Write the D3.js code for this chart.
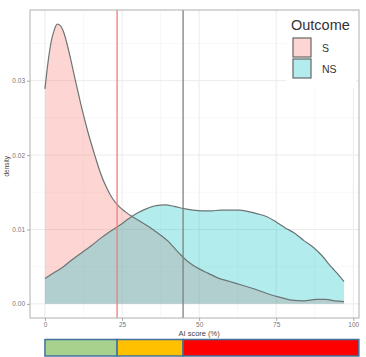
<!DOCTYPE html>
<html>
<head>
<meta charset="utf-8">
<script src="https://cdn.jsdelivr.net/npm/d3@7"></script>
<style>
  body { margin: 0; background: #fff; }
  svg { display: block; font-family: "Liberation Sans", Arial, sans-serif; }
</style>
</head>
<body>
<script>
// density curves (x = AI score %, y = density)
const sX = [0, 1, 2, 3, 4, 5, 6, 7, 8, 10, 12, 14, 16, 18, 20, 22, 24, 26, 28, 30, 32, 34, 36, 38, 40, 42, 44, 46, 48, 50, 53, 56, 60, 64, 68, 72, 76, 80, 84, 88, 91, 94, 97];
const sY = [.0289, .0325, .0352, .0368, .0376, .0374, .0366, .0352, .0335, .0298, .0262, .0230, .0202, .0176, .0156, .0141, .0131, .0124, .0118, .0113, .0108, .0103, .0097, .0091, .0084, .0075, .0066, .0058, .0052, .0047, .0041, .0035, .0030, .0025, .0020, .0014, .0009, .0005, .0004, .0006, .0006, .0004, .0003];
const nsX = [0, 3, 6, 9, 12, 15, 18, 21, 24, 27, 30, 33, 36, 39, 42, 45, 48, 51, 54, 57, 60, 63, 66, 69, 72, 75, 78, 81, 84, 87, 90, 93, 95, 97];
const nsY = [.0034, .0042, .0050, .0060, .0069, .0078, .0088, .0097, .0105, .0114, .0122, .0128, .0132, .0133, .0131, .0128, .0126, .0125, .0125, .0126, .0126, .0126, .0124, .0121, .0117, .0110, .0102, .0095, .0085, .0076, .0064, .0049, .0040, .0030];

const xTicks = [0, 25, 50, 75, 100];
const yTicks = [0, 0.01, 0.02, 0.03];
const yTickLabels = ["0.00", "0.01", "0.02", "0.03"];
const cutoffs = [23.4, 44.8];
const barBreaks = [0, 23.4, 44.8, 101.8];
const barColors = ["#a9d18e", "#ffc000", "#ff0000"];
const outcomes = ["S", "NS"];
const fills = ["#f8766d", "#00bfc4"];

const W = 366, H = 357;
const svg = d3.select("body").append("svg").attr("width", W).attr("height", H);

const x = d3.scaleLinear().domain([-4.85, 101.85]).range([30, 359]);
const y = d3.scaleLinear().domain([-0.0019, 0.0395]).range([318, 10]);

// panel grid
const g = svg.append("g");
const minorX = d3.range(-12.5, 110, 25).filter(v => v > -4.85 && v < 101.85);
const minorY = [0.005, 0.015, 0.025, 0.035];
g.selectAll(".mx").data(minorX).join("line")
  .attr("x1", d => x(d)).attr("x2", d => x(d)).attr("y1", 10).attr("y2", 318)
  .attr("stroke", "#f4f4f4").attr("stroke-width", 0.6);
g.selectAll(".my").data(minorY).join("line")
  .attr("y1", d => y(d)).attr("y2", d => y(d)).attr("x1", 30).attr("x2", 359)
  .attr("stroke", "#f4f4f4").attr("stroke-width", 0.6);
g.selectAll(".Mx").data(xTicks).join("line")
  .attr("x1", d => x(d)).attr("x2", d => x(d)).attr("y1", 10).attr("y2", 318)
  .attr("stroke", "#ebebeb").attr("stroke-width", 1);
g.selectAll(".My").data(yTicks).join("line")
  .attr("y1", d => y(d)).attr("y2", d => y(d)).attr("x1", 30).attr("x2", 359)
  .attr("stroke", "#ebebeb").attr("stroke-width", 1);

// densities
const area = d3.area().curve(d3.curveMonotoneX)
  .x(d => x(d[0])).y0(y(0)).y1(d => y(d[1]));
const line = d3.line().curve(d3.curveMonotoneX)
  .x(d => x(d[0])).y(d => y(d[1]));
const series = [d3.zip(sX, sY), d3.zip(nsX, nsY)];
series.forEach((s, i) => {
  svg.append("path").datum(s).attr("d", area)
    .attr("fill", fills[i]).attr("fill-opacity", 0.3);
});
series.forEach((s, i) => {
  svg.append("path").datum(s).attr("d", line)
    .attr("fill", "none").attr("stroke", "#6b7575").attr("stroke-width", 1.2);
});

// cutoff lines
svg.selectAll(".cut").data(cutoffs).join("line")
  .attr("x1", d => x(d)).attr("x2", d => x(d)).attr("y1", 10).attr("y2", 318)
  .attr("stroke", (d, i) => i === 0 ? "#f27c7c" : "#808080")
  .attr("stroke-width", 1.3);

// panel border
svg.append("rect").attr("x", 30).attr("y", 10).attr("width", 329).attr("height", 308)
  .attr("fill", "none").attr("stroke", "#b0b0b0").attr("stroke-width", 1);

// axes
const xAxis = svg.append("g").attr("transform", "translate(0,318)")
  .call(d3.axisBottom(x).tickValues(xTicks).tickSize(3).tickPadding(1.5));
const yAxis = svg.append("g").attr("transform", "translate(30,0)")
  .call(d3.axisLeft(y).tickValues(yTicks).tickFormat((d, i) => yTickLabels[i]).tickSize(3).tickPadding(2));
[xAxis, yAxis].forEach(a => {
  a.select(".domain").remove();
  a.selectAll("line").attr("stroke", "#aaa");
  a.selectAll("text").attr("fill", "#777").style("font-size", "6.5px");
});

svg.append("text").attr("x", x(50)).attr("y", 336).attr("text-anchor", "middle")
  .attr("fill", "#444").style("font-size", "7.5px").text("AI score (%)");
svg.append("text").attr("transform", `translate(9,${y(0.0185)}) rotate(-90)`)
  .attr("text-anchor", "middle").attr("fill", "#444").style("font-size", "6.5px").text("density");

// legend
const lg = svg.append("g");
lg.append("rect").attr("x", 286).attr("y", 12).attr("width", 70).attr("height", 76).attr("fill", "#fff");
lg.append("text").attr("x", 291).attr("y", 30).attr("fill", "#333").style("font-size", "14.5px").text("Outcome");
outcomes.forEach((o, i) => {
  lg.append("rect").attr("x", 293).attr("y", 38 + i * 21).attr("width", 18).attr("height", 19)
    .attr("fill", fills[i]).attr("fill-opacity", 0.3).attr("stroke", "#666").attr("stroke-width", 1.2);
  lg.append("text").attr("x", 322).attr("y", 52 + i * 21).attr("fill", "#333")
    .style("font-size", "10.5px").text(o);
});

// risk colour bar
svg.selectAll(".bar").data(d3.pairs(barBreaks)).join("rect")
  .attr("x", d => x(d[0])).attr("width", d => x(d[1]) - x(d[0]))
  .attr("y", 339.5).attr("height", 16.5)
  .attr("fill", (d, i) => barColors[i])
  .attr("stroke", "#41719c").attr("stroke-width", 1.5);
</script>
</body>
</html>
